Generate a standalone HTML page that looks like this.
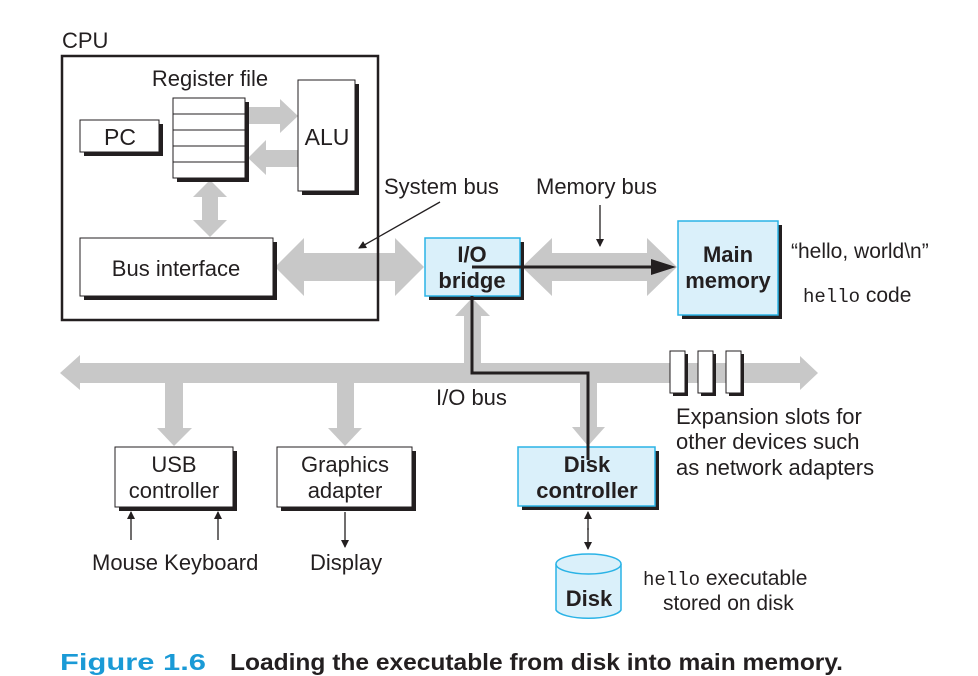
<!DOCTYPE html>
<html><head><meta charset="utf-8"><style>
body{margin:0;background:#fff;}
svg{display:block;font-family:"Liberation Sans",sans-serif;}
</style></head><body>
<svg width="978" height="676" viewBox="0 0 978 676" xmlns="http://www.w3.org/2000/svg">
<defs>
<marker id="ah" markerWidth="8" markerHeight="8" refX="7" refY="4" orient="auto" markerUnits="userSpaceOnUse"><path d="M0,0 L8,4 L0,8 z" fill="#231f20"/></marker>
</defs>
<g fill="#c8c8c8">
<polygon points="249,107 280,107 280,99 298,116 280,133 280,124 249,124"/>
<polygon points="298,150 266,150 266,140 248,158 266,175 266,167 298,167"/>
<polygon points="210,180 227,197 218,197 218,220 227,220 210,237 193,220 202,220 202,197 193,197"/>
<polygon points="275,267 304,238 304,253 395,253 395,238 424,267 395,296 395,281 304,281 304,296"/>
<polygon points="522,267 552,238 552,253 647,253 647,238 677,267 647,296 647,281 552,281 552,296"/>
<polygon points="60,373 80,355 80,363 800,363 800,356 818,373 800,390 800,383 80,383 80,390"/>
<polygon points="464,365 464,316 455,316 472,298 490,316 481,316 481,365"/>
<polygon points="165,381 183,381 183,428 192,428 174,446 157,428 165,428"/>
<polygon points="337,381 354,381 354,428 362,428 345,446 328,428 337,428"/>
<polygon points="580,381 597,381 597,427 605,427 588,446 572,427 580,427"/>
</g>
<g fill="#231f20" font-size="22">
<text x="62" y="48">CPU</text>
<text x="210" y="86" text-anchor="middle">Register file</text>
</g>
<rect x="62" y="56" width="316" height="264" fill="none" stroke="#231f20" stroke-width="2.5"/>
<rect x="177" y="102" width="72" height="80" fill="#231f20"/>
<rect x="173" y="98" width="72" height="80" fill="#fff" stroke="#231f20" stroke-width="1"/>
<g stroke="#231f20" stroke-width="1"><line x1="173" y1="114" x2="245" y2="114"/><line x1="173" y1="130" x2="245" y2="130"/><line x1="173" y1="146" x2="245" y2="146"/><line x1="173" y1="162" x2="245" y2="162"/></g>
<rect x="84" y="124" width="79" height="32" fill="#231f20"/>
<rect x="80" y="120" width="79" height="32" fill="#fff" stroke="#231f20"/>
<text x="120" y="145" font-size="23" text-anchor="middle" fill="#231f20">PC</text>
<rect x="302" y="84" width="57" height="111" fill="#231f20"/>
<rect x="298" y="80" width="57" height="111" fill="#fff" stroke="#231f20"/>
<text x="327" y="145" font-size="23" text-anchor="middle" fill="#231f20">ALU</text>
<rect x="84" y="242" width="193" height="58" fill="#231f20"/>
<rect x="80" y="238" width="193" height="58" fill="#fff" stroke="#231f20"/>
<text x="176" y="276" font-size="22" text-anchor="middle" fill="#231f20">Bus interface</text>
<text x="384" y="194" font-size="22" fill="#231f20">System bus</text>
<line x1="440" y1="202" x2="359" y2="248" stroke="#231f20" stroke-width="1.3" marker-end="url(#ah)"/>
<text x="536" y="194" font-size="22" fill="#231f20">Memory bus</text>
<line x1="600" y1="205" x2="600" y2="246" stroke="#231f20" stroke-width="1.3" marker-end="url(#ah)"/>
<rect x="429" y="242" width="95" height="58" fill="#231f20"/>
<rect x="425" y="238" width="95" height="58" fill="#daf0fa" stroke="#2ab3e6" stroke-width="1.5"/>
<g font-weight="bold" font-size="22" fill="#231f20" text-anchor="middle">
<text x="472" y="262">I/O</text><text x="472" y="288">bridge</text>
</g>
<rect x="682" y="225" width="100" height="94" fill="#231f20"/>
<rect x="678" y="221" width="100" height="94" fill="#daf0fa" stroke="#2ab3e6" stroke-width="1.5"/>
<g font-weight="bold" font-size="22" fill="#231f20" text-anchor="middle">
<text x="728" y="262">Main</text><text x="728" y="288">memory</text>
</g>
<text x="791" y="258" font-size="21" fill="#231f20">“hello, world\n”</text>
<text x="803" y="302" font-size="21" fill="#231f20"><tspan font-family="Liberation Mono,monospace" font-size="19">hello</tspan> code</text>
<polyline points="472,296 472,373 588,373 588,452" fill="none" stroke="#231f20" stroke-width="3"/>
<line x1="472" y1="267" x2="656" y2="267" stroke="#231f20" stroke-width="3"/>
<polygon points="651,259 676,267 651,275" fill="#231f20"/>
<g>
<rect x="673" y="354" width="15" height="42" fill="#231f20"/><rect x="670" y="351" width="15" height="42" fill="#fff" stroke="#231f20"/>
<rect x="701" y="354" width="15" height="42" fill="#231f20"/><rect x="698" y="351" width="15" height="42" fill="#fff" stroke="#231f20"/>
<rect x="729" y="354" width="15" height="42" fill="#231f20"/><rect x="726" y="351" width="15" height="42" fill="#fff" stroke="#231f20"/>
</g>
<g font-size="22" fill="#231f20">
<text x="436" y="405">I/O bus</text>
<text x="676" y="424">Expansion slots for</text>
<text x="676" y="449">other devices such</text>
<text x="676" y="475">as network adapters</text>
</g>
<rect x="119" y="451" width="118" height="60" fill="#231f20"/>
<rect x="115" y="447" width="118" height="60" fill="#fff" stroke="#231f20"/>
<g font-size="22" fill="#231f20" text-anchor="middle">
<text x="174" y="472">USB</text><text x="174" y="498">controller</text>
</g>
<rect x="281" y="451" width="135" height="60" fill="#231f20"/>
<rect x="277" y="447" width="135" height="60" fill="#fff" stroke="#231f20"/>
<g font-size="22" fill="#231f20" text-anchor="middle">
<text x="345" y="472">Graphics</text><text x="345" y="498">adapter</text>
</g>
<line x1="131" y1="540" x2="131" y2="512" stroke="#231f20" stroke-width="1.3" marker-end="url(#ah)"/>
<line x1="218" y1="540" x2="218" y2="512" stroke="#231f20" stroke-width="1.3" marker-end="url(#ah)"/>
<line x1="345" y1="512" x2="345" y2="547" stroke="#231f20" stroke-width="1.3" marker-end="url(#ah)"/>
<g font-size="22" fill="#231f20">
<text x="92" y="570">Mouse Keyboard</text>
<text x="310" y="570">Display</text>
</g>
<rect x="522" y="451" width="137" height="59" fill="#231f20"/>
<rect x="518" y="447" width="137" height="59" fill="#daf0fa" stroke="#2ab3e6" stroke-width="1.5"/>
<line x1="588" y1="446" x2="588" y2="460" stroke="#231f20" stroke-width="3"/>
<g font-weight="bold" font-size="22" fill="#231f20" text-anchor="middle">
<text x="587" y="472">Disk</text><text x="587" y="498">controller</text>
</g>
<line x1="588" y1="530" x2="588" y2="512" stroke="#231f20" stroke-width="1.3" marker-end="url(#ah)"/>
<line x1="588" y1="528" x2="588" y2="549" stroke="#231f20" stroke-width="1.3" marker-end="url(#ah)"/>
<path d="M556,564 L556,610 A33,10 0 0 0 621,610 L621,564" fill="#daf0fa" stroke="#2ab3e6" stroke-width="1.5"/>
<ellipse cx="588.5" cy="564" rx="32.5" ry="10" fill="#daf0fa" stroke="#2ab3e6" stroke-width="1.5"/>
<text x="589" y="606" font-weight="bold" font-size="22" fill="#231f20" text-anchor="middle">Disk</text>
<text x="643" y="585" font-size="21" fill="#231f20"><tspan font-family="Liberation Mono,monospace" font-size="19">hello</tspan> executable</text>
<text x="663" y="610" font-size="21" fill="#231f20">stored on disk</text>
<text x="60" y="670" font-size="23" font-weight="bold" fill="#1a9ad6" textLength="146" lengthAdjust="spacingAndGlyphs">Figure 1.6</text>
<text x="230" y="670" font-size="23" font-weight="bold" fill="#231f20" textLength="613" lengthAdjust="spacingAndGlyphs">Loading the executable from disk into main memory.</text>
</svg>
</body></html>
